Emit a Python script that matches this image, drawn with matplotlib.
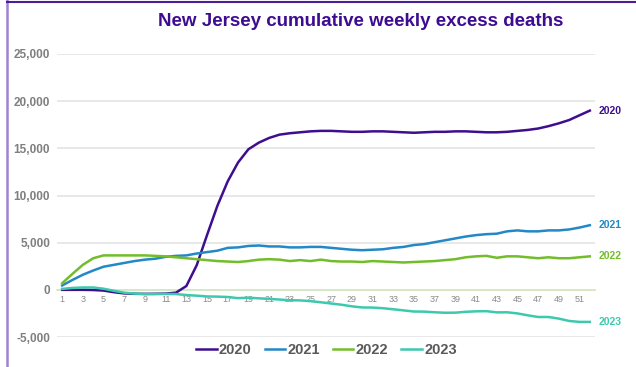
import matplotlib
matplotlib.use("Agg")
import matplotlib.pyplot as plt
from matplotlib.lines import Line2D
from matplotlib.ticker import FuncFormatter

plt.rcParams['font.family'] = ['Liberation Sans', 'DejaVu Sans']

# week numbers and cumulative excess deaths per year
weeks = list(range(1, 53))
y2020 = [0, 0, 0, -20, -80, -250, -380, -420, -430, -420, -400, -300,
         400, 2600, 5800, 8900, 11500, 13500, 14900, 15600, 16100, 16450,
         16600, 16700, 16800, 16850, 16850, 16800, 16750, 16750, 16800,
         16800, 16750, 16700, 16650, 16700, 16750, 16750, 16800, 16800,
         16750, 16700, 16700, 16750, 16850, 16950, 17100, 17350, 17650,
         18000, 18500, 19000]
y2021 = [460, 1050, 1600, 2050, 2450, 2650, 2850, 3050, 3200, 3300, 3500,
         3600, 3650, 3850, 4000, 4150, 4450, 4500, 4650, 4700, 4600, 4600,
         4500, 4500, 4550, 4550, 4450, 4350, 4250, 4200, 4250, 4300, 4450,
         4550, 4750, 4850, 5050, 5250, 5450, 5650, 5800, 5900, 5950, 6200,
         6300, 6200, 6200, 6300, 6300, 6400, 6600, 6850]
y2022 = [700, 1700, 2650, 3350, 3650, 3650, 3650, 3650, 3650, 3600, 3550,
         3450, 3350, 3250, 3150, 3050, 3000, 2950, 3050, 3200, 3250, 3200,
         3050, 3150, 3050, 3200, 3050, 3000, 3000, 2950, 3050, 3000, 2950,
         2900, 2950, 3000, 3050, 3150, 3250, 3450, 3550, 3600, 3400, 3550,
         3550, 3450, 3350, 3450, 3350, 3350, 3450, 3550]
y2023 = [100, 200, 250, 250, 120, -100, -300, -400, -450, -450, -430, -450,
         -550, -620, -700, -720, -760, -880, -830, -900, -960, -1030, -1100,
         -1120, -1200, -1320, -1450, -1580, -1750, -1870, -1880, -1950,
         -2060, -2180, -2300, -2310, -2380, -2430, -2420, -2330, -2280,
         -2260, -2390, -2380, -2500, -2700, -2880, -2880, -3050, -3300,
         -3400, -3400]

series = [("2020", y2020, "#3f0e8f"),
          ("2021", y2021, "#2288c6"),
          ("2022", y2022, "#72bd2a"),
          ("2023", y2023, "#3cc9ae")]

W, H = 636, 367
fig = plt.figure(figsize=(W / 100, H / 100), dpi=100)
ax = fig.add_axes([57 / W, (H - 337) / H, 538 / W, 283 / H])

for name, vals, col in series:
    ax.plot(weeks, vals, color=col, lw=1.8, label=name, zorder=3)
    ax.annotate(name, (weeks[-1], vals[-1]), xytext=(6, 0),
                textcoords='offset points', va='center', ha='left',
                fontsize=7.5, fontweight='bold', color=col,
                annotation_clip=False)

ax.set_xlim(0.5, 52.5)
ax.set_ylim(-5000, 25000)
ax.set_yticks(range(-5000, 25001, 5000))
ax.yaxis.set_major_formatter(FuncFormatter(lambda v, p: f"{int(v):,}"))
ax.set_xticks(weeks[::2])
ax.grid(axis='y', color='#e6e6e6', lw=1.3, zorder=0)
for s in ['top', 'right', 'left']:
    ax.spines[s].set_visible(False)
ax.spines['bottom'].set_position(('data', 0))
ax.spines['bottom'].set_color('#d3e9c4')
ax.spines['bottom'].set_linewidth(1.3)
ax.tick_params(axis='y', length=0, pad=5, labelsize=8.5, labelcolor='#7f7f7f')
ax.tick_params(axis='x', length=0, pad=4, labelsize=6.5, labelcolor='#8a8a8a')
for lab in ax.get_yticklabels():
    lab.set_fontweight('bold')

fig.text(361 / W, 1 - 22 / H, "New Jersey cumulative weekly excess deaths",
         ha='center', va='center', fontsize=13.5, fontweight='bold',
         color='#3d0c91')

fig.legend(loc='center', bbox_to_anchor=(326.5 / W, 1 - 350 / H), ncol=4,
           frameon=False, prop={'weight': 'bold', 'size': 10.5},
           labelcolor='#595959', handlelength=1.4, handletextpad=0.15,
           columnspacing=0.9)

# chart frame edges
fig.add_artist(Line2D([7 / W, 7 / W], [0, 1], color='#a082d0', lw=1.8))
fig.add_artist(Line2D([7 / W, 1], [1 - 1.5 / H, 1 - 1.5 / H],
                      color='#4b1c9c', lw=1.5))

fig.savefig("out.png", dpi=100)
